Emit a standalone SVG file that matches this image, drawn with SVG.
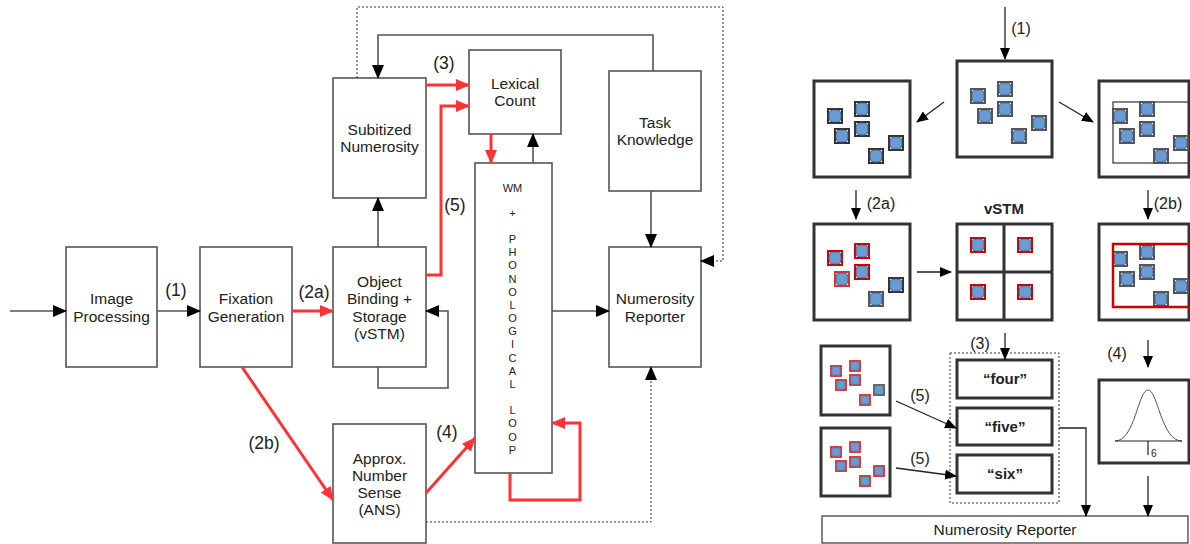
<svg xmlns="http://www.w3.org/2000/svg" xmlns:xlink="http://www.w3.org/1999/xlink" width="1190" height="544" viewBox="0 0 1190 544">
<style>
.box{fill:#fff;stroke:#555;stroke-width:1.6}
.tb{fill:#fff;stroke:#333;stroke-width:3}
.thin{fill:none;stroke:#333;stroke-width:1.2}
.t{font-family:"Liberation Sans",Arial,sans-serif;font-size:15.5px;fill:#222;text-anchor:middle}
.lbl{font-family:"Liberation Sans",Arial,sans-serif;font-size:17.5px;fill:#222;text-anchor:middle}
.lbr{font-family:"Liberation Sans",Arial,sans-serif;font-size:16px;fill:#222;text-anchor:middle}
.wm{font-family:"Liberation Sans",Arial,sans-serif;font-size:11px;fill:#222;text-anchor:middle}
.bw{font-family:"Liberation Sans",Arial,sans-serif;font-size:15px;font-weight:bold;fill:#222;text-anchor:middle}
.k{fill:none;stroke:#555;stroke-width:1.6}
.r{fill:none;stroke:#ff3333;stroke-width:3}
.d{fill:none;stroke:#333;stroke-width:1;stroke-dasharray:2,2}
.a{fill:none;stroke:#222;stroke-width:1.3}
</style>
<defs>
<marker id="mk" markerUnits="userSpaceOnUse" markerWidth="14" markerHeight="12" refX="13" refY="6" orient="auto"><path d="M0,0 L14,6 L0,12 z" fill="#000"/></marker>
<marker id="mr" markerUnits="userSpaceOnUse" markerWidth="14" markerHeight="12" refX="13" refY="6" orient="auto"><path d="M0,0 L14,6 L0,12 z" fill="#ff3333"/></marker>
<marker id="ms" markerUnits="userSpaceOnUse" markerWidth="12" markerHeight="10" refX="11" refY="5" orient="auto"><path d="M0,0 L12,5 L0,10 z" fill="#000"/></marker>
<g id="sq">
<rect x="-7" y="-7" width="14" height="14" fill="#fff" stroke="currentColor" stroke-width="2"/>
<rect x="-6" y="-6" width="12" height="12" rx="4" fill="#6b9bd3" stroke="#3f5f8a" stroke-width="0.8"/>
</g>
<g id="six">
<use xlink:href="#sq" x="21" y="35"/><use xlink:href="#sq" x="48" y="28"/><use xlink:href="#sq" x="28" y="55"/>
<use xlink:href="#sq" x="48" y="48"/><use xlink:href="#sq" x="82" y="62"/><use xlink:href="#sq" x="62" y="75"/>
</g>
</defs>

<!-- LEFT PANEL NODES -->
<g id="image-processing"><rect class="box" x="66" y="247" width="91" height="120"/><text class="t" x="111.5" y="304">Image</text><text class="t" x="111.5" y="322">Processing</text></g>
<g id="fixation-generation"><rect class="box" x="200" y="247" width="92" height="120"/><text class="t" x="246" y="304">Fixation</text><text class="t" x="246" y="322">Generation</text></g>
<g id="object-binding"><rect class="box" x="333" y="247" width="93" height="120"/><text class="t" x="379.5" y="287">Object</text><text class="t" x="379.5" y="304">Binding +</text><text class="t" x="379.5" y="322">Storage</text><text class="t" x="379.5" y="339">(vSTM)</text></g>
<g id="subitized-numerosity"><rect class="box" x="333" y="78" width="93" height="120"/><text class="t" x="379.5" y="135">Subitized</text><text class="t" x="379.5" y="152">Numerosity</text></g>
<g id="lexical-count"><rect class="box" x="469" y="50" width="92" height="84"/><text class="t" x="515" y="89">Lexical</text><text class="t" x="515" y="106">Count</text></g>
<g id="task-knowledge"><rect class="box" x="609" y="71" width="92" height="120"/><text class="t" x="655" y="128">Task</text><text class="t" x="655" y="145">Knowledge</text></g>
<g id="numerosity-reporter-left"><rect class="box" x="609" y="247" width="92" height="120"/><text class="t" x="655" y="304">Numerosity</text><text class="t" x="655" y="322">Reporter</text></g>
<g id="ans"><rect class="box" x="333" y="424" width="93" height="119"/><text class="t" x="379.5" y="464">Approx.</text><text class="t" x="379.5" y="481">Number</text><text class="t" x="379.5" y="498">Sense</text><text class="t" x="379.5" y="515">(ANS)</text></g>
<g id="wm-phonological-loop"><rect class="box" x="475" y="163" width="77" height="310"/>
<text class="wm" x="512.5" y="192" font-size="11.5">WM</text>
<text class="wm" x="512.5" y="217">+</text>
<text class="wm" x="512.5" y="243">P</text><text class="wm" x="512.5" y="256">H</text><text class="wm" x="512.5" y="269">O</text><text class="wm" x="512.5" y="283">N</text><text class="wm" x="512.5" y="296">O</text><text class="wm" x="512.5" y="309">L</text><text class="wm" x="512.5" y="322">O</text><text class="wm" x="512.5" y="335">G</text><text class="wm" x="512.5" y="348">I</text><text class="wm" x="512.5" y="362">C</text><text class="wm" x="512.5" y="375">A</text><text class="wm" x="512.5" y="388">L</text>
<text class="wm" x="512.5" y="414">L</text><text class="wm" x="512.5" y="427">O</text><text class="wm" x="512.5" y="441">O</text><text class="wm" x="512.5" y="454">P</text>
</g>

<!-- LEFT PANEL CONNECTORS -->
<g id="connectors-left">
<path class="k" d="M10,311 H66" marker-end="url(#mk)"/>
<path class="k" d="M157,311 H200" marker-end="url(#mk)"/>
<path class="r" d="M292,311 H333" marker-end="url(#mr)"/>
<path class="r" d="M242,367 L333,500" marker-end="url(#mr)"/>
<path class="k" d="M378,247 V198" marker-end="url(#mk)"/>
<path class="k" d="M378,367 V388 H448 V311 H426" marker-end="url(#mk)"/>
<path class="r" d="M426,85 H469" marker-end="url(#mr)"/>
<path class="r" d="M426,275 H441 V106 H469" marker-end="url(#mr)"/>
<path class="r" d="M491,134 V163" marker-end="url(#mr)"/>
<path class="k" d="M533,163 V134" marker-end="url(#mk)"/>
<path class="k" d="M653,71 V35 H378 V78" marker-end="url(#mk)"/>
<path class="d" d="M357,78 V7 H723 V261 H701" marker-end="url(#mk)"/>
<path class="k" d="M651,191 V247" marker-end="url(#mk)"/>
<path class="k" d="M552,311 H609" marker-end="url(#mk)"/>
<path class="r" d="M426,493 L475,438" marker-end="url(#mr)"/>
<path class="r" d="M510,473 V500 H580 V423 H552" marker-end="url(#mr)"/>
<path class="d" d="M426,522 H651 V367" marker-end="url(#mk)"/>
<text class="lbl" x="176" y="296">(1)</text>
<text class="lbl" x="314" y="298">(2a)</text>
<text class="lbl" x="444" y="69">(3)</text>
<text class="lbl" x="455" y="211">(5)</text>
<text class="lbl" x="447" y="438">(4)</text>
<text class="lbl" x="264" y="449">(2b)</text>
</g>

<!-- RIGHT PANEL -->
<g id="display-center"><rect class="tb" x="957" y="61" width="95" height="96"/><use xlink:href="#six" x="957" y="61" color="#555"/></g>
<g id="display-left"><rect class="tb" x="814" y="81" width="96" height="96"/><use xlink:href="#six" x="814" y="81" color="#333"/></g>
<g id="display-right"><rect class="tb" x="1099" y="81" width="90" height="96"/><rect class="thin" x="1113" y="102" width="80" height="61"/><use xlink:href="#six" x="1099" y="81" color="#555"/></g>

<g id="binding-2a"><rect class="tb" x="814" y="224" width="96" height="96"/>
<use xlink:href="#sq" x="835" y="258" color="#cc0000"/><use xlink:href="#sq" x="862" y="251" color="#cc0000"/><use xlink:href="#sq" x="842" y="279" color="#e03030"/>
<use xlink:href="#sq" x="862" y="272" color="#cc0000"/><use xlink:href="#sq" x="896" y="285" color="#333"/><use xlink:href="#sq" x="876" y="299" color="#555"/>
</g>
<g id="vstm"><text class="bw" x="1004" y="214">vSTM</text><rect class="tb" x="957" y="224" width="95" height="96"/><path d="M1004,224 V320 M957,272 H1052" stroke="#333" stroke-width="3"/>
<use xlink:href="#sq" x="978" y="245" color="#cc0000"/><use xlink:href="#sq" x="1025" y="245" color="#cc0000"/>
<use xlink:href="#sq" x="978" y="292" color="#cc0000"/><use xlink:href="#sq" x="1025" y="292" color="#cc0000"/>
</g>
<g id="ans-2b"><rect class="tb" x="1099" y="224" width="90" height="96"/><use xlink:href="#six" x="1099" y="224" color="#555"/><rect x="1113" y="244" width="80" height="63" fill="none" stroke="#cc0000" stroke-width="2.5"/></g>

<g id="set-a"><rect class="tb" x="821" y="346" width="69" height="69"/>
<g transform="translate(836,371) scale(0.72)"><use xlink:href="#sq" color="#cc0000"/></g>
<g transform="translate(855,366) scale(0.72)"><use xlink:href="#sq" color="#cc0000"/></g>
<g transform="translate(841,385) scale(0.72)"><use xlink:href="#sq" color="#cc0000"/></g>
<g transform="translate(855,380) scale(0.72)"><use xlink:href="#sq" color="#cc0000"/></g>
<g transform="translate(879,390) scale(0.72)"><use xlink:href="#sq" color="#333"/></g>
<g transform="translate(865,400) scale(0.72)"><use xlink:href="#sq" color="#cc0000"/></g>
</g>
<g id="set-b"><rect class="tb" x="821" y="428" width="69" height="68"/>
<g transform="translate(836,452) scale(0.72)"><use xlink:href="#sq" color="#cc0000"/></g>
<g transform="translate(855,447) scale(0.72)"><use xlink:href="#sq" color="#cc0000"/></g>
<g transform="translate(841,466) scale(0.72)"><use xlink:href="#sq" color="#cc0000"/></g>
<g transform="translate(855,462) scale(0.72)"><use xlink:href="#sq" color="#cc0000"/></g>
<g transform="translate(879,471) scale(0.72)"><use xlink:href="#sq" color="#cc0000"/></g>
<g transform="translate(865,481) scale(0.72)"><use xlink:href="#sq" color="#cc0000"/></g>
</g>

<g id="lexicon"><rect x="950" y="353" width="109" height="150" fill="none" stroke="#333" stroke-width="1" stroke-dasharray="2,2"/>
<g id="word-four"><rect class="tb" x="957" y="360" width="95" height="38"/><text class="bw" x="1005" y="384">“four”</text></g>
<g id="word-five"><rect class="tb" x="957" y="408" width="95" height="37"/><text class="bw" x="1005" y="432">“five”</text></g>
<g id="word-six"><rect class="tb" x="957" y="455" width="95" height="38"/><text class="bw" x="1005" y="479">“six”</text></g>
</g>

<g id="gaussian"><rect class="tb" x="1099" y="380" width="90" height="83"/>
<path d="M1115,441 C1135,441 1138,390 1148,390 C1158,390 1161,441 1182,441" fill="none" stroke="#555" stroke-width="1"/>
<path d="M1115,441 H1182 M1148,441 V455" stroke="#222" stroke-width="1.2"/>
<text x="1151" y="457" font-family="Liberation Sans,Arial,sans-serif" font-size="10" fill="#222">6</text>
</g>

<g id="numerosity-reporter-right"><rect x="822" y="516" width="366" height="27" fill="#fff" stroke="#333" stroke-width="1.2"/><text class="t" x="1005" y="535">Numerosity Reporter</text></g>

<g id="connectors-right">
<path class="a" d="M1005,7 V59" marker-end="url(#ms)"/>
<path class="a" d="M944,102 L917,122" marker-end="url(#ms)"/>
<path class="a" d="M1059,102 L1093,122" marker-end="url(#ms)"/>
<path class="a" d="M856,190 V219" marker-end="url(#ms)"/>
<path class="a" d="M1148,190 V219" marker-end="url(#ms)"/>
<path class="a" d="M917,272 H951" marker-end="url(#ms)"/>
<path class="a" d="M1005,333 V359" marker-end="url(#ms)"/>
<path class="a" d="M896,401 L956,428" marker-end="url(#ms)"/>
<path class="a" d="M896,468 L956,476" marker-end="url(#ms)"/>
<path class="a" d="M1059,428 H1086 V516" marker-end="url(#ms)"/>
<path class="a" d="M1148,340 V367" marker-end="url(#ms)"/>
<path class="a" d="M1148,476 V516" marker-end="url(#ms)"/>
<text class="lbr" x="1021" y="34">(1)</text>
<text class="lbr" x="881" y="209">(2a)</text>
<text class="lbr" x="1168" y="209">(2b)</text>
<text class="lbr" x="980" y="349">(3)</text>
<text class="lbr" x="1117" y="359">(4)</text>
<text class="lbr" x="920" y="401">(5)</text>
<text class="lbr" x="920" y="464">(5)</text>
</g>
</svg>
